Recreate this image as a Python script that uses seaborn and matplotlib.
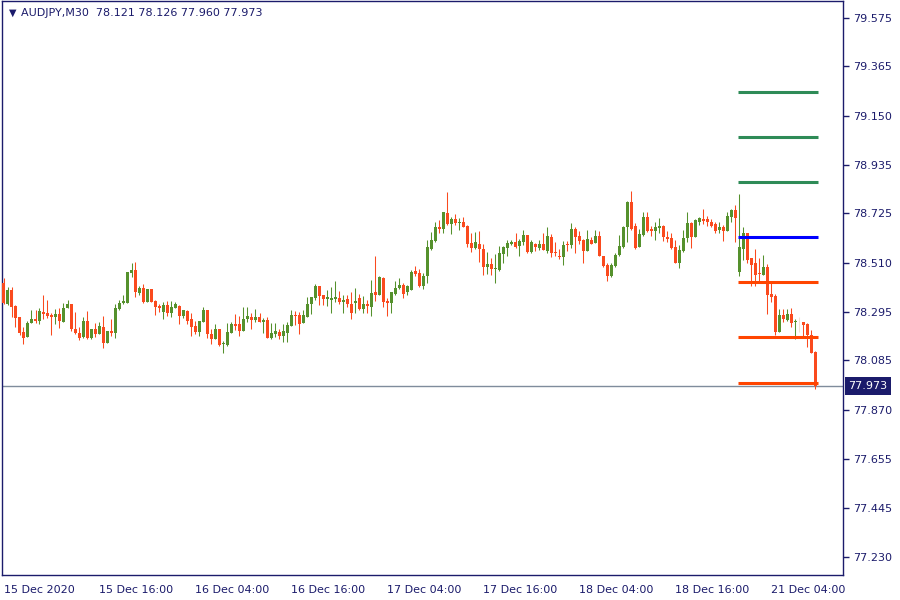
import matplotlib
matplotlib.use("Agg")
import matplotlib.pyplot as plt
import matplotlib.transforms as mtransforms
import numpy as np
import seaborn as sns

# ---- datos (velas M30) ----
symbol = "AUDJPY,M30"
last_ohlc = [78.121, 78.126, 77.960, 77.973]

opens = [
    78.422, 78.331, 78.391, 78.322, 78.274, 78.209, 78.187, 78.248, 78.265, 78.257, 78.296, 78.291,
    78.283, 78.274, 78.287, 78.252, 78.313, 78.331, 78.222, 78.204, 78.187, 78.257, 78.183, 78.222,
    78.200, 78.230, 78.161, 78.213, 78.204, 78.309, 78.335, 78.335, 78.465, 78.478, 78.378, 78.400,
    78.339, 78.396, 78.344, 78.322, 78.296, 78.326, 78.291, 78.313, 78.322, 78.278, 78.300, 78.265,
    78.235, 78.209, 78.252, 78.304, 78.200, 78.178, 78.222, 78.157, 78.152, 78.204, 78.244, 78.244,
    78.213, 78.265, 78.274, 78.261, 78.274, 78.252, 78.261, 78.183, 78.200, 78.209, 78.191, 78.204,
    78.235, 78.283, 78.283, 78.248, 78.274, 78.331, 78.357, 78.409, 78.370, 78.352, 78.348, 78.352,
    78.357, 78.339, 78.352, 78.331, 78.335, 78.357, 78.309, 78.331, 78.317, 78.383, 78.370, 78.444,
    78.344, 78.335, 78.374, 78.400, 78.413, 78.383, 78.391, 78.474, 78.465, 78.409, 78.452, 78.570,
    78.605, 78.666, 78.657, 78.726, 78.679, 78.700, 78.683, 78.687, 78.670, 78.596, 78.574, 78.592,
    78.570, 78.491, 78.505, 78.483, 78.478, 78.548, 78.574, 78.592, 78.600, 78.583, 78.600, 78.631,
    78.557, 78.592, 78.574, 78.592, 78.561, 78.622, 78.557, 78.539, 78.535, 78.592, 78.587, 78.657,
    78.626, 78.609, 78.561, 78.609, 78.596, 78.626, 78.539, 78.500, 78.452, 78.496, 78.544, 78.578,
    78.666, 78.774, 78.670, 78.578, 78.631, 78.709, 78.657, 78.648, 78.661, 78.670, 78.622, 78.618,
    78.578, 78.509, 78.561, 78.618, 78.683, 78.622, 78.687, 78.700, 78.700, 78.687, 78.679, 78.653,
    78.666, 78.648, 78.709, 78.740, 78.470, 78.570, 78.639, 78.531, 78.509, 78.465, 78.457, 78.491,
    78.374, 78.365, 78.209, 78.283, 78.261, 78.287, 78.252, 78.252, 78.252, 78.244, 78.196, 78.121,
]
highs = [
    78.444, 78.404, 78.404, 78.326, 78.274, 78.230, 78.257, 78.304, 78.304, 78.313, 78.370, 78.348,
    78.291, 78.309, 78.313, 78.335, 78.348, 78.331, 78.296, 78.230, 78.274, 78.300, 78.222, 78.248,
    78.252, 78.278, 78.213, 78.265, 78.331, 78.348, 78.370, 78.470, 78.509, 78.513, 78.409, 78.418,
    78.396, 78.396, 78.348, 78.331, 78.339, 78.344, 78.344, 78.339, 78.326, 78.304, 78.304, 78.291,
    78.257, 78.257, 78.317, 78.304, 78.222, 78.244, 78.222, 78.170, 78.248, 78.252, 78.287, 78.278,
    78.317, 78.317, 78.291, 78.309, 78.291, 78.270, 78.274, 78.248, 78.248, 78.222, 78.244, 78.252,
    78.304, 78.300, 78.296, 78.304, 78.361, 78.361, 78.418, 78.409, 78.370, 78.391, 78.404, 78.431,
    78.387, 78.370, 78.370, 78.383, 78.400, 78.374, 78.365, 78.348, 78.435, 78.539, 78.452, 78.448,
    78.357, 78.383, 78.431, 78.444, 78.422, 78.413, 78.478, 78.496, 78.483, 78.465, 78.609, 78.644,
    78.687, 78.696, 78.731, 78.818, 78.709, 78.722, 78.705, 78.709, 78.674, 78.639, 78.644, 78.648,
    78.592, 78.557, 78.531, 78.548, 78.583, 78.583, 78.609, 78.609, 78.639, 78.613, 78.653, 78.631,
    78.609, 78.596, 78.609, 78.639, 78.666, 78.635, 78.600, 78.570, 78.605, 78.605, 78.683, 78.666,
    78.648, 78.613, 78.653, 78.622, 78.653, 78.648, 78.539, 78.509, 78.509, 78.552, 78.631, 78.670,
    78.779, 78.822, 78.683, 78.657, 78.731, 78.731, 78.670, 78.687, 78.705, 78.674, 78.648, 78.639,
    78.609, 78.587, 78.653, 78.731, 78.687, 78.700, 78.709, 78.744, 78.713, 78.700, 78.687, 78.687,
    78.674, 78.731, 78.744, 78.761, 78.809, 78.666, 78.639, 78.531, 78.570, 78.531, 78.544, 78.505,
    78.426, 78.374, 78.309, 78.309, 78.309, 78.313, 78.265, 78.274, 78.252, 78.248, 78.217, 78.126,
]
lows = [
    78.331, 78.326, 78.274, 78.230, 78.196, 78.157, 78.187, 78.248, 78.248, 78.244, 78.265, 78.270,
    78.196, 78.244, 78.226, 78.252, 78.313, 78.213, 78.200, 78.174, 78.183, 78.178, 78.178, 78.187,
    78.200, 78.139, 78.161, 78.191, 78.183, 78.304, 78.331, 78.335, 78.448, 78.361, 78.370, 78.335,
    78.339, 78.339, 78.283, 78.296, 78.265, 78.278, 78.274, 78.313, 78.244, 78.270, 78.244, 78.191,
    78.200, 78.191, 78.252, 78.183, 78.157, 78.178, 78.148, 78.117, 78.148, 78.204, 78.217, 78.191,
    78.213, 78.252, 78.222, 78.252, 78.252, 78.204, 78.183, 78.178, 78.187, 78.178, 78.165, 78.165,
    78.235, 78.239, 78.200, 78.248, 78.274, 78.287, 78.348, 78.326, 78.326, 78.322, 78.291, 78.339,
    78.331, 78.291, 78.317, 78.265, 78.291, 78.304, 78.291, 78.291, 78.278, 78.344, 78.370, 78.317,
    78.278, 78.291, 78.370, 78.396, 78.357, 78.370, 78.391, 78.452, 78.404, 78.396, 78.422, 78.565,
    78.600, 78.639, 78.639, 78.674, 78.635, 78.674, 78.653, 78.666, 78.578, 78.557, 78.570, 78.513,
    78.457, 78.461, 78.457, 78.422, 78.474, 78.509, 78.539, 78.587, 78.574, 78.539, 78.587, 78.552,
    78.552, 78.561, 78.565, 78.565, 78.552, 78.535, 78.539, 78.526, 78.500, 78.561, 78.574, 78.552,
    78.592, 78.509, 78.561, 78.592, 78.596, 78.539, 78.491, 78.431, 78.448, 78.491, 78.539, 78.574,
    78.600, 78.653, 78.570, 78.578, 78.626, 78.644, 78.626, 78.609, 78.639, 78.605, 78.600, 78.570,
    78.509, 78.487, 78.557, 78.600, 78.574, 78.622, 78.674, 78.679, 78.670, 78.666, 78.639, 78.639,
    78.605, 78.648, 78.687, 78.600, 78.452, 78.522, 78.509, 78.409, 78.409, 78.426, 78.457, 78.287,
    78.339, 78.196, 78.209, 78.252, 78.257, 78.230, 78.178, 78.209, 78.187, 78.143, 78.117, 77.960,
]
closes = [
    78.335, 78.391, 78.317, 78.270, 78.204, 78.183, 78.248, 78.265, 78.257, 78.300, 78.287, 78.278,
    78.274, 78.287, 78.257, 78.313, 78.331, 78.222, 78.204, 78.183, 78.257, 78.183, 78.222, 78.200,
    78.235, 78.161, 78.213, 78.204, 78.313, 78.335, 78.344, 78.470, 78.478, 78.383, 78.400, 78.339,
    78.396, 78.339, 78.317, 78.313, 78.326, 78.291, 78.317, 78.331, 78.278, 78.304, 78.257, 78.230,
    78.209, 78.257, 78.304, 78.200, 78.178, 78.222, 78.152, 78.161, 78.209, 78.244, 78.235, 78.213,
    78.265, 78.278, 78.261, 78.274, 78.252, 78.261, 78.183, 78.204, 78.213, 78.191, 78.213, 78.239,
    78.283, 78.278, 78.244, 78.283, 78.331, 78.361, 78.409, 78.365, 78.352, 78.361, 78.357, 78.361,
    78.339, 78.348, 78.331, 78.291, 78.344, 78.309, 78.331, 78.322, 78.378, 78.370, 78.448, 78.339,
    78.335, 78.383, 78.400, 78.413, 78.374, 78.409, 78.470, 78.461, 78.409, 78.452, 78.578, 78.609,
    78.666, 78.657, 78.731, 78.679, 78.700, 78.683, 78.687, 78.666, 78.592, 78.574, 78.600, 78.570,
    78.491, 78.505, 78.483, 78.487, 78.552, 78.578, 78.596, 78.600, 78.578, 78.605, 78.631, 78.557,
    78.600, 78.578, 78.592, 78.565, 78.626, 78.552, 78.552, 78.535, 78.587, 78.587, 78.657, 78.622,
    78.605, 78.561, 78.613, 78.592, 78.626, 78.539, 78.496, 78.452, 78.500, 78.544, 78.583, 78.666,
    78.774, 78.657, 78.574, 78.635, 78.709, 78.648, 78.648, 78.666, 78.670, 78.622, 78.613, 78.574,
    78.509, 78.565, 78.618, 78.683, 78.622, 78.696, 78.705, 78.692, 78.687, 78.670, 78.648, 78.666,
    78.648, 78.713, 78.740, 78.705, 78.578, 78.639, 78.522, 78.500, 78.457, 78.461, 78.491, 78.370,
    78.361, 78.209, 78.283, 78.265, 78.287, 78.248, 78.257, 78.252, 78.239, 78.196, 78.117, 77.973,
]

# niveles dibujados desde la apertura del lunes
levels_up = [79.254, 79.056, 78.860]
pivot = 78.621
levels_down = [78.425, 78.186, 77.986]
monday_index = 184

date_labels = ["15 Dec 2020", "15 Dec 16:00", "16 Dec 04:00", "16 Dec 16:00", "17 Dec 04:00",
               "17 Dec 16:00", "18 Dec 04:00", "18 Dec 16:00", "21 Dec 04:00"]
date_ticks = [0, 24, 48, 72, 96, 120, 144, 168, 192]
price_ticks = [79.575, 79.365, 79.150, 78.935, 78.725, 78.510, 78.295, 78.085,
               77.870, 77.655, 77.445, 77.230]

# ---- estilo ----
sns.set_theme(style="white")
plt.rcParams["font.family"] = ["DejaVu Sans"]

navy = "#1b1b6b"
verde = "#55912d"
rojo = "#fa4a1e"
doji = "#f2e2d2"

fig = plt.figure(figsize=(9, 6), dpi=100)
ax = fig.add_axes([2 / 900, 25 / 600, 841 / 900, 574 / 600])

o = np.array(opens)
h = np.array(highs)
l = np.array(lows)
c = np.array(closes)
x = np.arange(len(o))
up = c > o
down = c < o
flat = c == o
body = np.maximum(np.abs(c - o), 0.0045)
bottom = np.minimum(o, c)

# ----- velas -----
for mask, col in [(up, verde), (down, rojo)]:
    ax.vlines(x[mask], l[mask], h[mask], color=col, lw=0.75, zorder=2)
    ax.bar(x[mask], body[mask], bottom=bottom[mask], width=0.75, color=col,
           linewidth=0, zorder=3)
ax.vlines(x[flat], l[flat], h[flat], color=doji, lw=0.75, zorder=2)

# ----- niveles -----
x0, x1 = monday_index - 0.375, len(o) - 0.4
ax.hlines(levels_up, x0, x1, color="#2e8b57", lw=2.2, zorder=4)
ax.hlines([pivot], x0, x1, color="#0000ff", lw=2.2, zorder=4)
ax.hlines(levels_down, x0, x1, color="#ff4500", lw=2.2, zorder=4)

# ----- precio actual -----
ax.axhline(c[-1], color="#7f8c9c", lw=1, zorder=1)
tr = mtransforms.blended_transform_factory(ax.transAxes, ax.transData)
ax.text(1.0065, c[-1], f"{c[-1]:.3f}", transform=tr, color="white", fontsize=8,
        va="center", ha="left",
        bbox=dict(boxstyle="square,pad=0.35", fc=navy, ec="none"), clip_on=False)

# ----- ejes -----
ax.set_xlim(-0.375, 209.875)
ax.set_ylim(77.1515, 79.649)
ax.yaxis.tick_right()
ax.set_yticks(price_ticks)
ax.set_yticklabels([f"{v:.3f}" for v in price_ticks])
ax.set_xticks(date_ticks)
ax.set_xticklabels(date_labels)
for lbl in ax.get_xticklabels():
    lbl.set_horizontalalignment("left")
ax.tick_params(axis="both", direction="out", length=4, width=1, color=navy,
               labelcolor=navy, labelsize=8)
ax.tick_params(axis="y", pad=3)
ax.tick_params(axis="x", pad=3)
for s in ax.spines.values():
    s.set_color(navy)
    s.set_linewidth(1)
ax.grid(False)

fig.text(9 / 900, 1 - 13 / 600, "▼", fontsize=7, color=navy, va="center")
fig.text(21 / 900, 1 - 13 / 600, f"{symbol}  " + " ".join(f"{v:.3f}" for v in last_ohlc),
         fontsize=8, color=navy, va="center")

fig.savefig("out.png", dpi=100)
